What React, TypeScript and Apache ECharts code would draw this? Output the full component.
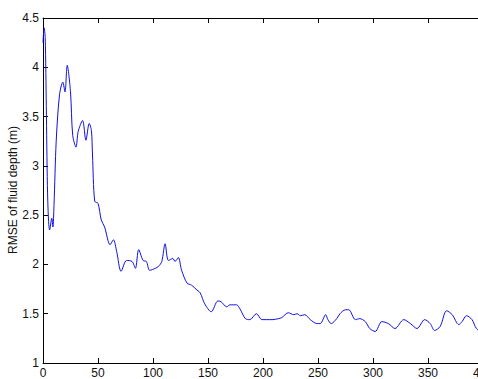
import React, { useEffect, useRef } from "react";
import * as echarts from "echarts";

const steps = [
  0, 1, 2, 3, 4, 5, 6, 8, 9, 10, 12, 15, 18, 20, 22, 25, 27, 30, 32, 36, 39, 42, 44, 45, 47,
  50, 53, 56, 61, 64, 67, 71, 76, 81, 84, 87, 91, 94, 97, 102, 105, 108, 111, 114, 118, 120,
  123, 126, 131, 135, 140, 143, 147, 153, 159, 162, 167, 170, 176, 179, 184, 188, 194, 199,
  203, 209, 214, 217, 223, 228, 231, 234, 238, 243, 249, 252, 257, 259, 262, 267, 270, 275,
  278, 284, 288, 293, 297, 302, 308, 314, 320, 328, 334, 340, 347, 352, 356, 361, 367, 372,
  378, 381, 385, 390, 394, 400,
];
const rmse = [
  4.25, 4.4, 4.3, 3.6, 2.8, 2.45, 2.35, 2.47, 2.38, 2.6, 3.25, 3.72, 3.85, 3.75, 4.02, 3.75,
  3.31, 3.19, 3.35, 3.46, 3.26, 3.43, 3.36, 3.11, 2.64, 2.62, 2.45, 2.38, 2.2, 2.25, 2.13,
  1.93, 2.04, 2.03, 1.96, 2.15, 2.04, 2.03, 1.94, 1.96, 1.98, 2.03, 2.21, 2.04, 2.06, 2.03,
  2.07, 1.94, 1.81, 1.79, 1.74, 1.71, 1.6, 1.52, 1.63, 1.62, 1.57, 1.59, 1.59, 1.55, 1.45,
  1.44, 1.5, 1.44, 1.44, 1.44, 1.45, 1.46, 1.51, 1.49, 1.5, 1.48, 1.49, 1.44, 1.4, 1.4, 1.49,
  1.44, 1.4, 1.45, 1.5, 1.54, 1.54, 1.44, 1.45, 1.42, 1.35, 1.32, 1.42, 1.4, 1.35, 1.44, 1.4,
  1.35, 1.44, 1.4, 1.33, 1.37, 1.53, 1.49, 1.39, 1.42, 1.48, 1.44, 1.35, 1.3,
];

const yName = "RMSE of fluid depth (m)";

export default function App() {
  const ref = useRef<HTMLDivElement>(null);
  useEffect(() => {
    if (!ref.current) return;
    const chart = echarts.init(ref.current, undefined, { renderer: "svg" });
    const fontFamily = "Liberation Sans, Arial, sans-serif";
    const font = { fontFamily, fontSize: 12, color: "#111" };
    const line = { show: true, lineStyle: { color: "#000", width: 1 } };
    const tick = { show: true, inside: true, length: 5, lineStyle: { color: "#000", width: 1 } };
    chart.setOption({
      animation: false,
      backgroundColor: "#fff",
      grid: { left: 43, right: 17, top: 18, bottom: 16, containLabel: false, outerBoundsMode: "none" },
      graphic: [
        {
          type: "text",
          x: 13,
          y: 190,
          rotation: Math.PI / 2,
          style: {
            text: yName,
            fontFamily,
            fontSize: 12,
            fill: "#111",
            align: "center",
            verticalAlign: "middle",
          },
        },
      ],
      xAxis: [
        {
          type: "value", min: 0, max: 400, interval: 50, position: "bottom",
          axisLine: { ...line, onZero: false }, axisTick: tick,
          axisLabel: { ...font, margin: 4 }, splitLine: { show: false },
        },
        {
          type: "value", min: 0, max: 400, interval: 50, position: "top",
          axisLine: { ...line, onZero: false }, axisTick: tick,
          axisLabel: { show: false }, splitLine: { show: false },
        },
      ],
      yAxis: [
        {
          type: "value", min: 1, max: 4.5, interval: 0.5, position: "left",
          axisLine: { ...line, onZero: false }, axisTick: tick,
          axisLabel: { ...font, margin: 4 }, splitLine: { show: false },
        },
        {
          type: "value", min: 1, max: 4.5, interval: 0.5, position: "right",
          axisLine: { ...line, onZero: false }, axisTick: tick,
          axisLabel: { show: false }, splitLine: { show: false },
        },
      ],
      series: [
        {
          type: "line",
          data: steps.map((s, i) => [s, rmse[i]]),
          smooth: 0.3,
          showSymbol: false,
          lineStyle: { color: "#1010e0", width: 1 },
          xAxisIndex: 0,
          yAxisIndex: 0,
        },
      ],
    });
    return () => chart.dispose();
  }, []);
  return (
    <div style={{ position: "absolute", left: 0, top: 0, width: 478, height: 379, overflow: "hidden", background: "#fff" }}>
      <div ref={ref} style={{ width: 500, height: 379 }} />
    </div>
  );
}
